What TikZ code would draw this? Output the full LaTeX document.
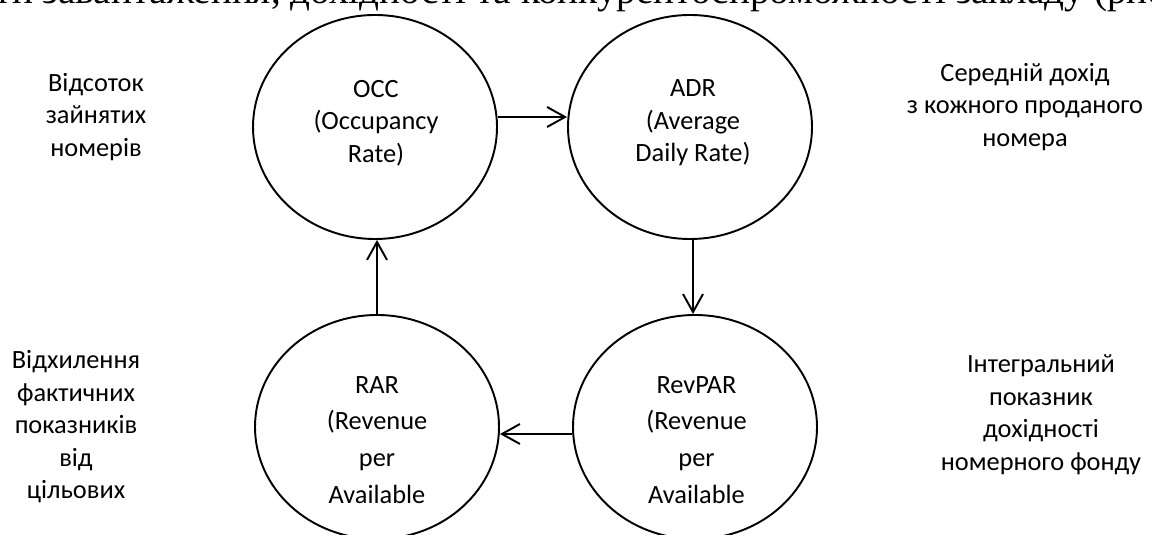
\documentclass[tikz,border=0pt]{standalone}
\usepackage{fontspec}
\setmainfont{Carlito}
\newfontfamily\headfont{Liberation Serif}
\usetikzlibrary{arrows.meta, shapes.geometric}

\begin{document}
\begin{tikzpicture}[>={Straight Barb[length=3.6mm, width=4mm]}, line width=1.1pt,
        metric/.style={draw, ellipse, minimum width=4.88cm, minimum height=4.48cm, inner sep=0pt},
        upper/.style={align=center, font=\fontsize{15}{18.5}\selectfont},
        lower/.style={align=center, font=\fontsize{15}{21}\selectfont},
        note/.style={align=center, font=\fontsize{15}{18.5}\selectfont}]
                \useasboundingbox (0, 0) rectangle (23.04, 10.68);
                \clip (0, 0) rectangle (23.04, 10.68);
                % Heading line, cut off by the top edge
                \node[anchor=base west, inner sep=0pt, font=\headfont\fontsize{22.3}{26}\selectfont] at (-0.12, 10.60) (head) {ти завантаження, дохідності та конкурентоспроможності закладу (рис.};

                % Nodes
                \node[metric] at (7.50, 8.14) (occ) {};
                \node[metric] at (13.80, 8.14) (adr) {};
                \node[metric] at (13.90, 2.14) (revpar) {};
                \node[metric] at (7.54, 2.14) (rar) {};

                \node[upper] at (7.52, 8.22) (occname) {OCC\\(Occupancy\\Rate)};
                \node[upper] at (13.86, 8.22) (adrname) {ADR\\(Average\\Daily Rate)};
                \node[lower] at (13.93, 1.88) (revparname) {RevPAR\\(Revenue\\per\\Available};
                \node[lower] at (7.54, 1.88) (rarname) {RAR\\(Revenue\\per\\Available};

                \node[note] at (1.92, 8.34) (occtxt) {Відсоток\\зайнятих\\номерів};
                \node[note] at (20.50, 8.54) (adrtxt) {Середній дохід\\з кожного проданого\\номера};
                \node[note] at (20.82, 2.38) (revpartxt) {Інтегральний\\показник\\дохідності\\номерного фонду};
                \node[note] at (1.52, 2.14) (rartxt) {Відхилення\\фактичних\\показників\\від\\цільових};

                % Edges
                \draw[->] ([yshift=0.2cm]occ.east) -- ([yshift=0.2cm]adr.west);

                \draw[->] ([xshift=0.06cm]adr.south) -- ([xshift=0.06cm]adr.south |- revpar.north);

                \draw[->] ([yshift=-0.14cm]revpar.west) -- ([yshift=-0.14cm]rar.east);

                \draw[->] (rar.north) -- (rar.north |- occ.south);
            \end{tikzpicture}
\end{document}
